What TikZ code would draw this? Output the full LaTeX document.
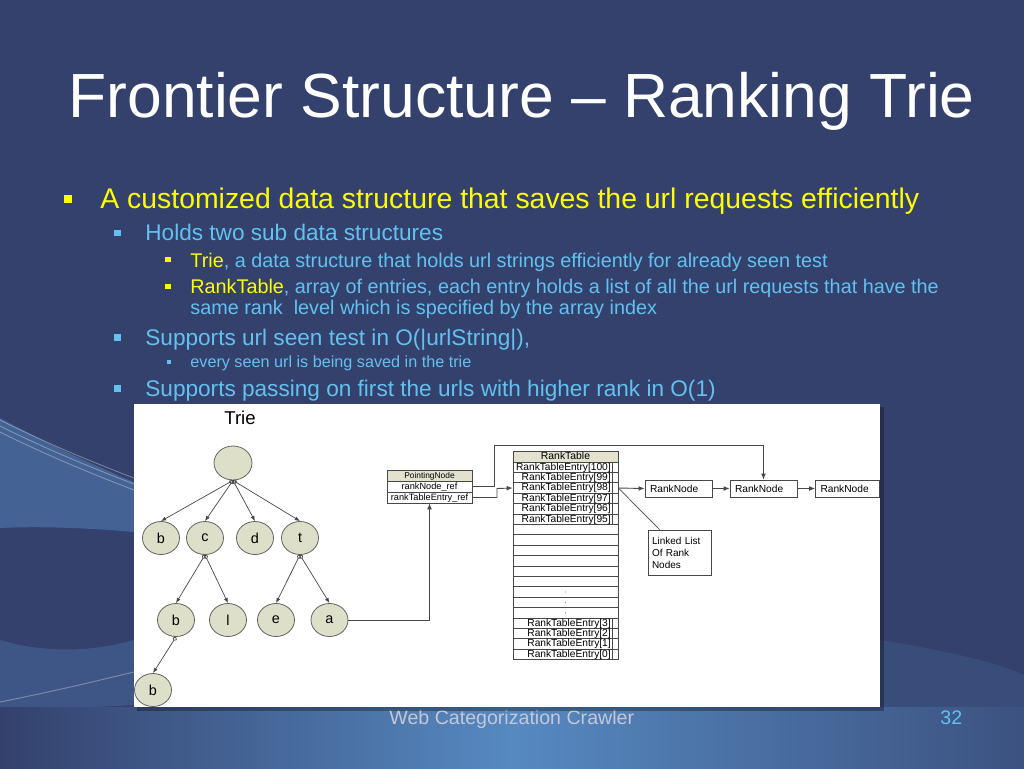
\documentclass[tikz,border=0pt]{standalone}
\usepackage{fontspec}
\setmainfont{Liberation Sans}
\usetikzlibrary{shapes.geometric,arrows.meta,positioning}
\definecolor{slidebg}{RGB}{52,65,108}
\definecolor{swoosh}{RGB}{92,150,208}
\definecolor{hiyellow}{RGB}{255,255,0}
\definecolor{lightblue}{RGB}{98,193,240}
\definecolor{footgray}{RGB}{196,200,214}
\definecolor{trienode}{RGB}{221,223,201}
\definecolor{hdrfill}{RGB}{226,226,206}
\definecolor{lineg}{RGB}{72,72,72}
\tikzset{
  sqbullet/.style={rectangle, inner sep=0pt, minimum size=#1},
  txt/.style={anchor=base west, inner sep=0pt},
  trie/.style={ellipse, draw=lineg!85, fill=trienode, minimum width=18.5pt, minimum height=16.5pt,
    inner sep=0pt, font=\fontsize{7.2}{8}\selectfont},
  tedge/.style={draw=lineg, line width=0.35pt, {Circle[open,length=2.2pt]}-{Latex[length=2.6pt,width=2pt]}},
  ptr/.style={draw=lineg, line width=0.45pt, -{Latex[length=3pt,width=2.4pt]}},
  cell/.style={draw=lineg, fill=white, line width=0.35pt, minimum width=52.5pt, minimum height=5.2pt, inner sep=0pt},
  hdr/.style={cell, fill=hdrfill, font=\fontsize{5.2}{5.2}\selectfont, text height=3.6pt, text depth=0.9pt},
  celltext/.style={inner sep=0pt, font=\fontsize{5.1}{5.1}\selectfont, text height=3.7pt, text depth=0.9pt},
  pcell/.style={draw=lineg, fill=white, line width=0.35pt, minimum width=42.5pt, minimum height=5.5pt,
    inner sep=0pt, font=\fontsize{4.6}{4.6}\selectfont, text height=3.4pt, text depth=0.9pt},
  rnode/.style={draw=lineg, fill=white, line width=0.4pt, inner xsep=2.5pt, inner ysep=0pt, minimum height=8.5pt,
    text width=28.5pt, align=left, font=\fontsize{5.1}{5.1}\selectfont},
}
\begin{document}
\begin{tikzpicture}[x=0.5pt,y=-0.5pt]
% slide background
\fill[slidebg] (0,0) rectangle (1024,768);
\useasboundingbox (0,0) rectangle (1024,768);
\fill[swoosh, opacity=0.4] (0,418) .. controls (50,445) and (100,468) .. (134,482) -- (134,532) .. controls (90,528) and (40,526) .. (0,528) -- cycle;
\fill[swoosh, opacity=0.25] (0,640) .. controls (50,655) and (100,650) .. (134,640) -- (134,705) -- (0,712) -- cycle;
\foreach \dy in {0,6,12} {
  \draw[white, opacity=0.35, line width=0.4pt] (0,{420+\dy}) .. controls (50,{445+\dy}) and (100,{465+\dy}) .. (134,{478+\dy});
}
\shade[left color=slidebg, right color=slidebg!80!swoosh, middle color=swoosh!85!slidebg] (0,707) rectangle (1024,768);
\draw[white, opacity=0.3, line width=0.5pt] (0,702) .. controls (60,690) and (100,680) .. (134,672);
\fill[swoosh, opacity=0.15] (880,640) .. controls (940,650) and (990,660) .. (1024,675) -- (1024,707) -- (880,707) -- cycle;
% title and bullets
\node[txt, text=white, font=\fontsize{31.2}{31.2}\selectfont] (title) at (68,117) {Frontier Structure – Ranking Trie};
\node[sqbullet=4pt, fill=hiyellow] (bu1) at (68,198.5) {};
\node[txt, text=hiyellow, font=\fontsize{14.2}{14.2}\selectfont] (ln1) at (100,208) {A customized data structure that saves the url requests efficiently};
\node[sqbullet=3.2pt, fill=lightblue] (bu2) at (117.5,232.7) {};
\node[txt, text=lightblue, font=\fontsize{11.3}{11.3}\selectfont] (ln2) at (145,240) {Holds two sub data structures};
\node[sqbullet=2.8pt, fill=hiyellow] (bu3) at (168,259.5) {};
\node[txt, text=lightblue, font=\fontsize{9.9}{9.9}\selectfont] (ln3) at (190,267) {{\color{hiyellow}Trie}, a data structure that holds url strings efficiently for already seen test};
\node[sqbullet=2.8pt, fill=hiyellow] (bu4) at (168,286.5) {};
\node[txt, text=lightblue, font=\fontsize{9.9}{9.9}\selectfont] (ln4) at (190,293) {{\color{hiyellow}RankTable}, array of entries, each entry holds a list of all the url requests that have the};
\node[txt, text=lightblue, font=\fontsize{9.9}{9.9}\selectfont] (ln5) at (190,314) {same rank\ \ level which is specified by the array index};
\node[sqbullet=3.2pt, fill=lightblue] (bu5) at (117.5,337.3) {};
\node[txt, text=lightblue, font=\fontsize{11.3}{11.3}\selectfont] (ln6) at (145,345) {Supports url seen test in O(|urlString|),};
\node[sqbullet=2pt, fill=lightblue] (bu6) at (168.5,361.7) {};
\node[txt, text=lightblue, font=\fontsize{8.1}{8.1}\selectfont] (ln7) at (190,367) {every seen url is being saved in the trie};
\node[sqbullet=3.2pt, fill=lightblue] (bu7) at (117.5,388.3) {};
\node[txt, text=lightblue, font=\fontsize{11.3}{11.3}\selectfont] (ln8) at (145,396) {Supports passing on first the urls with higher rank in O(1)};
% footer
\node[txt, text=footgray, font=\fontsize{9.8}{9.8}\selectfont] (foot) at (389,724) {Web Categorization Crawler};
\node[txt, text=lightblue, font=\fontsize{9.8}{9.8}\selectfont] (pgno) at (940,724) {32};
% white panel
\fill[black, opacity=0.3] (137,407) rectangle (884,711);
\fill[white] (134,404) rectangle (880,707);
% trie
\node[font=\fontsize{9.3}{9.3}\selectfont, inner sep=0pt] (trielbl) at (240,418) {Trie};
\node[trie, minimum width=19pt, minimum height=17pt] (tr) at (233,463) {};
\node[trie] (tb) at (161,538) {b};
\node[trie] (tc) at (205,538) {c};
\node[trie] (td) at (255,538) {d};
\node[trie] (tt) at (300,538) {t};
\node[trie] (tcb) at (176,620) {b};
\node[trie] (tcl) at (228,620) {l};
\node[trie] (te) at (276,620) {e};
\node[trie] (ta) at (329.5,620) {a};
\node[trie] (tcbb) at (153,690) {b};
\draw[tedge] (tr.south) -- (tb.north);
\draw[tedge] (tr.south) -- (tc.north);
\draw[tedge] (tr.south) -- (td.north);
\draw[tedge] (tr.south) -- (tt.north);
\draw[tedge] (tc.south) -- (tcb.north);
\draw[tedge] (tc.south) -- (tcl.north);
\draw[tedge] (tt.south) -- (te.north);
\draw[tedge] (tt.south) -- (ta.north);
\draw[tedge] (tcb.south) -- (tcbb.north);
% pointing node
\node[pcell, fill=hdrfill, font=\fontsize{4.2}{4.2}\selectfont] (pnh) at (429.5,475.5) {PointingNode};
\node[pcell] (pn1) at (429.5,486.5) {rankNode\_ref};
\node[pcell] (pn2) at (429.5,497.5) {rankTableEntry\_ref};
% rank table
\node[hdr] (rth) at (565.5,457) {RankTable};
\foreach \k in {7,...,15} {
  \node[cell] (rtb\k) at (565.5,{456.8+10.4*\k}) {};
}
\foreach \k in {13,14,15} {
  \fill[lineg!55] (rtb\k.center) circle (0.35pt);
}
\foreach \k/\idx in {1/100,2/99,3/98,4/97,5/96,6/95,16/3,17/2,18/1,19/0} {
  \node[cell] (rte\idx) at (565.5,{456.8+10.4*\k}) {};
  \node[celltext, anchor=east] (rtt\idx) at ([xshift=-3.6pt]rte\idx.east) {RankTableEntry[\idx]};
  \draw[lineg, line width=0.35pt] ([xshift=-3.1pt]rte\idx.north east) -- ([xshift=-3.1pt]rte\idx.south east);
}
% rank nodes
\node[rnode] (rn1) at (678.5,488.5) {RankNode};
\node[rnode] (rn2) at (763.5,488.5) {RankNode};
\node[rnode, text width=27pt] (rn3) at (847.5,488.5) {RankNode};
\node[draw=lineg, fill=white, line width=0.4pt, minimum width=31.5pt, minimum height=22.5pt, inner xsep=2pt,
  text width=27.5pt, align=left, font=\fontsize{5}{6}\selectfont] (ll) at (679.5,552.5) {Linked List\\Of Rank\\Nodes};
% connectors
\coordinate (rnbend) at (494,445);
\coordinate (rtbend) at (497,488.5);
\draw[ptr] (ta.east) -| (pn2.south);
\draw[ptr] (pn1.east) -| (rnbend) -| (rn2.north);
\draw[ptr] (pn2.east) -| (rtbend) -- (rte98.west);
\draw[ptr] (rte98.east) -- (rn1.west);
\draw[ptr] (rn1.east) -- (rn2.west);
\draw[ptr] (rn2.east) -- (rn3.west);
\draw[lineg, line width=0.35pt] (rte98.east) -- ([xshift=6pt]ll.north west);
\end{tikzpicture}
\end{document}
